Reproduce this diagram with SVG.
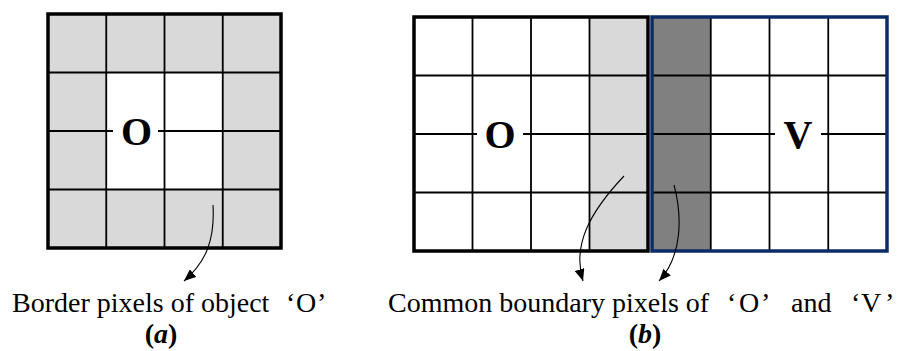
<svg xmlns="http://www.w3.org/2000/svg" width="908" height="351" viewBox="0 0 908 351">
<style>
.g{fill:#d9d9d9}
.dg{fill:#808080}
.in{stroke:#000;stroke-width:1.8;fill:none}
.ob{stroke:#000;stroke-width:3.5;fill:none}
.bb{stroke:#0c2b6a;stroke-width:3.5;fill:none}
.lbl{font-family:"Liberation Serif","Times New Roman",serif;font-size:40px;font-weight:bold;text-anchor:middle}
.cap{font-family:"Liberation Serif","Times New Roman",serif;font-size:28px}
.sub{font-family:"Liberation Serif","Times New Roman",serif;font-size:28px;font-weight:bold;text-anchor:middle}
.arr{stroke:#000;stroke-width:1.1;fill:none;marker-end:url(#ah)}
</style>
<defs>
<marker id="ah" viewBox="0 0 12 10" refX="12" refY="5" markerWidth="12" markerHeight="10" markerUnits="userSpaceOnUse" orient="auto">
<path d="M0,0 L12,5 L0,10 Z" fill="#000"/>
</marker>
</defs>
<rect width="908" height="351" fill="#fff"/>

<g id="grid-a">
<rect class="g" x="48" y="14" width="233" height="234"/>
<rect x="106.25" y="72.5" width="116.5" height="117" fill="#fff"/>
<path class="in" d="M106.25,14V248M164.5,14V248M222.75,14V248M48,72.5H281M48,189.5H281M48,131H113M158,131H281"/>
<rect class="ob" x="48" y="14" width="233" height="234"/>
<text class="lbl" x="136.5" y="145">O</text>
</g>

<g id="grid-b-O">
<rect class="g" x="589.5" y="17" width="58.5" height="234"/>
<path class="in" d="M472.5,17V251M531,17V251M589.5,17V251M414,75.5H648M414,192.5H648M414,134H477M523,134H648"/>
<rect class="ob" x="414" y="17" width="234" height="234"/>
<text class="lbl" x="500" y="148">O</text>
</g>

<g id="grid-b-V">
<rect class="dg" x="652" y="17" width="58.75" height="234"/>
<path class="in" d="M710.75,17V251M769.5,17V251M828.25,17V251M652,75.5H887M652,192.5H887M652,134H775M821,134H887"/>
<rect class="bb" x="652" y="17" width="235" height="234"/>
<text class="lbl" x="798" y="148">V</text>
</g>

<g id="connectors">
<path class="arr" d="M213,205 C215,240 206,262 184,281"/>
<path class="arr" d="M624,176 C590,212 572,245 583,281"/>
<path class="arr" d="M674,185 C682,215 683,255 659,281"/>
</g>

<g id="caption-a">
<text class="cap" x="12" y="312">Border pixels of object<tspan x="286">‘</tspan><tspan x="296">O</tspan><tspan x="317">’</tspan></text>
<text class="sub" x="161" y="343">(<tspan font-style="italic">a</tspan>)</text>
</g>

<g id="caption-b">
<text class="cap" x="388" y="312">Common boundary pixels of<tspan x="727">‘</tspan><tspan x="739">O</tspan><tspan x="761">’</tspan><tspan x="791">and</tspan><tspan x="851">‘</tspan><tspan x="861">V</tspan><tspan x="885">’</tspan></text>
<text class="sub" x="645" y="343">(<tspan font-style="italic">b</tspan>)</text>
</g>
</svg>
